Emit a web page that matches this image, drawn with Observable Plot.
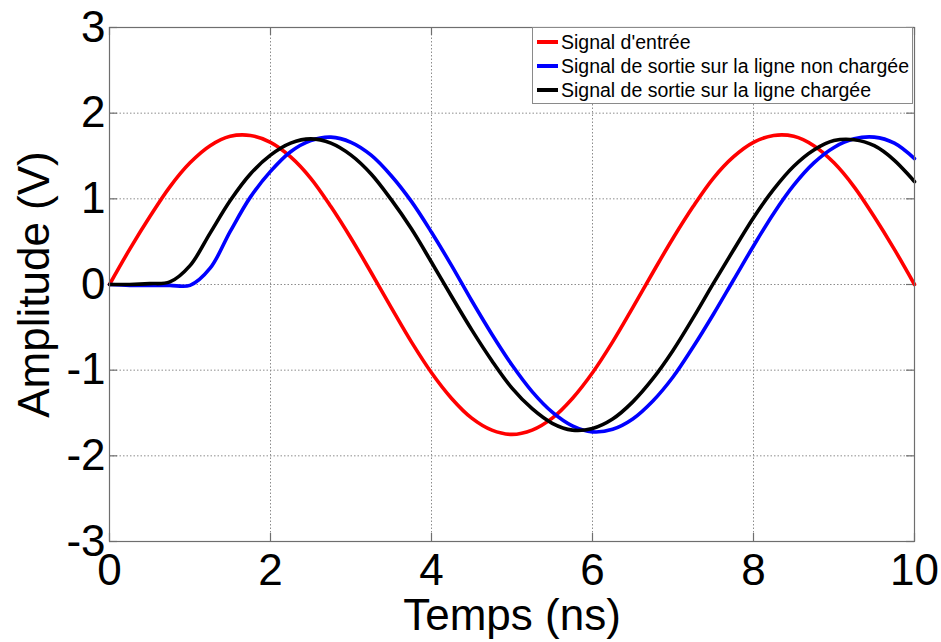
<!DOCTYPE html>
<html>
<head>
<meta charset="utf-8">
<script src="https://cdn.jsdelivr.net/npm/d3@7"></script>
<script src="https://cdn.jsdelivr.net/npm/@observablehq/plot@0.6"></script>
<style>
  html, body { margin: 0; padding: 0; background: white; }
  #wrap { position: relative; width: 941px; height: 642px; }
  #legend {
    position: absolute; left: 532px; top: 27px; width: 381px; height: 77px;
    border: 1px solid #8a8a8a; background: white;
    font-family: "Liberation Sans", Arial, sans-serif; font-size: 19.5px; color: black;
    box-sizing: border-box; padding-top: 2px;
  }
  .row { display: flex; align-items: center; height: 24px; }
  .sw { width: 21px; height: 4px; margin-left: 4px; margin-right: 3px; }
</style>
</head>
<body>
<div id="wrap"></div>
<script>
// Time axis (ns)
const t = [0, 0.25, 0.5, 0.75, 1, 1.25, 1.5, 1.75, 2, 2.25, 2.5, 2.75, 3, 3.25, 3.5, 3.75, 4, 4.25, 4.5, 4.75, 5,
           5.25, 5.5, 5.75, 6, 6.25, 6.5, 6.75, 7, 7.25, 7.5, 7.75, 8, 8.25, 8.5, 8.75, 9, 9.25, 9.5, 9.75, 10];
// Signal d'entrée (V)
const entree = [0, 0.41, 0.79, 1.14, 1.42, 1.62, 1.73, 1.74, 1.66, 1.49, 1.24, 0.91, 0.54, 0.14, -0.27, -0.67, -1.03, -1.33, -1.56, -1.70, -1.75,
                -1.70, -1.56, -1.33, -1.03, -0.67, -0.27, 0.14, 0.54, 0.91, 1.24, 1.49, 1.66, 1.74, 1.73, 1.62, 1.42, 1.14, 0.79, 0.41, 0];
// Signal de sortie sur la ligne non chargée (V)
const nonChargee = [0, -0.01, -0.01, -0.01, -0.01, 0.19, 0.62, 1.02, 1.32, 1.55, 1.68, 1.72, 1.66, 1.51, 1.27, 0.97, 0.61, 0.22, -0.19, -0.58, -0.94,
                    -1.25, -1.49, -1.65, -1.72, -1.69, -1.57, -1.36, -1.08, -0.73, -0.35, 0.05, 0.45, 0.83, 1.16, 1.42, 1.60, 1.70, 1.72, 1.65, 1.47];
// Signal de sortie sur la ligne chargée (V)
const chargee = [0, 0.0, 0.01, 0.03, 0.22, 0.60, 0.98, 1.29, 1.51, 1.65, 1.70, 1.65, 1.51, 1.29, 0.99, 0.65, 0.26, -0.14, -0.53, -0.89, -1.21,
                 -1.45, -1.62, -1.70, -1.68, -1.57, -1.37, -1.10, -0.77, -0.39, 0.01, 0.40, 0.78, 1.11, 1.38, 1.57, 1.68, 1.69, 1.62, 1.45, 1.20];

const seriesNames = ["Signal d'entrée", "Signal de sortie sur la ligne non chargée", "Signal de sortie sur la ligne chargée"];
const seriesColors = ["#ff0000", "#0000ff", "#000000"];
const xTicks = [0, 2, 4, 6, 8, 10];
const yTicks = [-3, -2, -1, 0, 1, 2, 3];
const xLabel = "Temps (ns)";
const yLabel = "Amplitude (V)";

const seriesValues = [entree, nonChargee, chargee];
const rows = seriesValues.map((vals, k) => t.map((x, i) => ({t: x, v: vals[i], s: seriesNames[k]})));

const W = 941, H = 642, ML = 109, MR = 27, MT = 27, MB = 101;
const frameW = W - ML - MR, frameH = H - MT - MB, TICK = 8;
const tickStyle = {stroke: "#6e6e6e", strokeWidth: 1.2};

const chart = Plot.plot({
  width: W,
  height: H,
  marginLeft: ML,
  marginRight: MR,
  marginTop: MT,
  marginBottom: MB,
  style: {fontFamily: "'Liberation Sans', Arial, sans-serif", fontSize: "44px", color: "black", background: "white", overflow: "visible"},
  x: {domain: [0, 10]},
  y: {domain: [-3, 3]},
  marks: [
    Plot.gridX(xTicks, {stroke: "#8c8c8c", strokeOpacity: 1, strokeDasharray: "1.5,2"}),
    Plot.gridY(yTicks, {stroke: "#8c8c8c", strokeOpacity: 1, strokeDasharray: "1.5,2"}),
    // inward tick marks (bottom, top, left, right)
    Plot.ruleX(xTicks, {x: d => d, insetTop: frameH - TICK, ...tickStyle}),
    Plot.ruleX(xTicks, {x: d => d, insetBottom: frameH - TICK, ...tickStyle}),
    Plot.ruleY(yTicks, {y: d => d, insetRight: frameW - TICK, ...tickStyle}),
    Plot.ruleY(yTicks, {y: d => d, insetLeft: frameW - TICK, ...tickStyle}),
    ...rows.map((r, k) => Plot.line(r, {x: "t", y: "v", stroke: seriesColors[k], strokeWidth: 3.6, curve: "catmull-rom"})),
    Plot.frame({stroke: "#6e6e6e", strokeWidth: 1.2}),
    Plot.axisX(xTicks, {tickSize: 0, tickPadding: 12, tickFormat: d => String(d), fontSize: 44, label: null}),
    Plot.axisY(yTicks, {tickSize: 0, tickPadding: 4, tickFormat: d => String(d), fontSize: 44, label: null}),
    Plot.text([xLabel], {frameAnchor: "bottom", dy: 74, fontSize: 44, lineAnchor: "middle", textAnchor: "middle"}),
    Plot.text([yLabel], {frameAnchor: "left", dx: -75, fontSize: 44, rotate: -90, lineAnchor: "middle", textAnchor: "middle"})
  ]
});

const wrap = document.getElementById("wrap");
wrap.appendChild(chart);

const legend = document.createElement("div");
legend.id = "legend";
seriesNames.forEach((name, k) => {
  const row = document.createElement("div");
  row.className = "row";
  const sw = document.createElement("div");
  sw.className = "sw";
  sw.style.background = seriesColors[k];
  const lab = document.createElement("span");
  lab.textContent = name;
  row.appendChild(sw);
  row.appendChild(lab);
  legend.appendChild(row);
});
wrap.appendChild(legend);
</script>
</body>
</html>
